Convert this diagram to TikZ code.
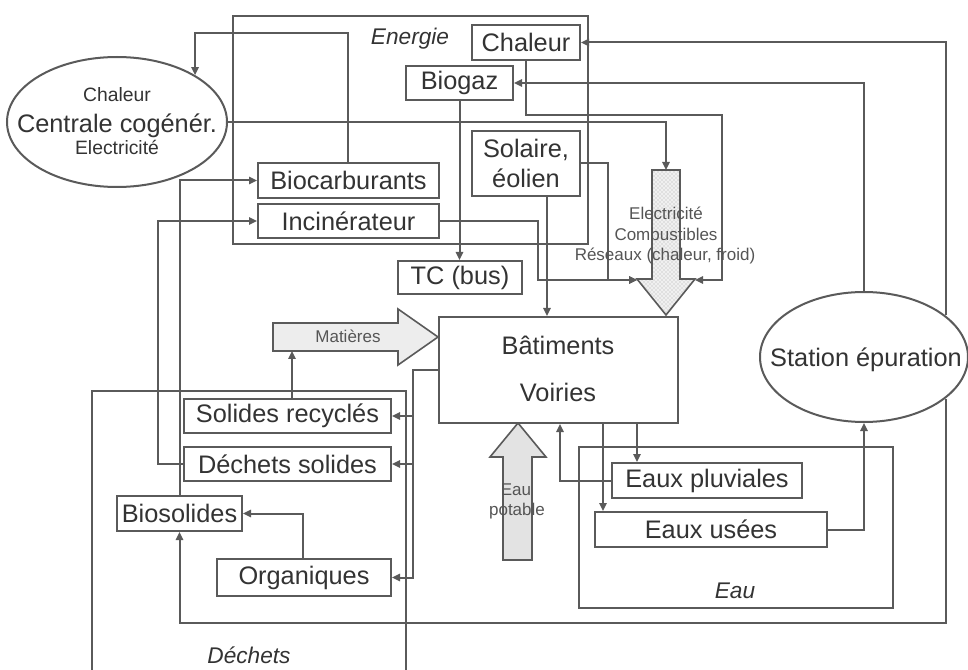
\documentclass[tikz,border=0pt]{standalone}
\usepackage{fontspec}
\setmainfont{Liberation Sans}
\usetikzlibrary{arrows.meta,shapes.geometric,patterns}
\definecolor{lc}{HTML}{5A5A5A}
\definecolor{txtc}{HTML}{333333}
\definecolor{txtc2}{HTML}{555555}
\def\pxu{0.75pt}
\begin{document}
\begin{tikzpicture}[x=0.75pt,y=-0.75pt,
  ln/.style={draw=lc,line width=1.5pt},
  arr/.style={ln,-{Triangle[length=6pt,width=5.5pt]}},
  bx/.style={draw=lc,line width=1.5pt,fill=white,inner sep=0pt,text=txtc,font=\fontsize{19}{22.5}\selectfont},
  elli/.style={ellipse,draw=lc,line width=1.5pt,fill=white,inner sep=0pt},
  txtbig/.style={text=txtc,font=\fontsize{19}{22.5}\selectfont,inner sep=0pt,anchor=base},
  txtsml/.style={text=txtc,font=\fontsize{14.5}{17}\selectfont,inner sep=0pt,anchor=base},
  txtarr/.style={text=txtc2,font=\fontsize{12.75}{15}\selectfont,inner sep=0pt,anchor=base},
  txtreg/.style={text=txtc,font=\itshape\fontsize{17}{20}\selectfont,inner sep=0pt,anchor=base},
  shp/.style={draw=lc,line width=1.2pt}
]
\fill[white] (0,0) rectangle (968,670);
\useasboundingbox (0,0) rectangle (968,670);

% helper coordinates
\coordinate (x348) at (348,0);
\coordinate (y33) at (0,33);
\coordinate (x722) at (722,0);
\coordinate (y115) at (0,115);
\coordinate (x608) at (608,0);
\coordinate (x538) at (538,0);
\coordinate (x547) at (547,0);
\coordinate (x158) at (158,0);
\coordinate (x292) at (292,0);
\coordinate (x413) at (413,0);
\coordinate (x637) at (637,0);
\coordinate (x603) at (603,0);
\coordinate (x560) at (560,0);
\coordinate (x303) at (303,0);
\coordinate (y623) at (0,623);

% regions
\draw[ln] (233,16) rectangle (588,244);
\draw[ln] (579,447) rectangle (893,608);
\draw[ln] (92,670) -- (92,391) -- (406,391) -- (406,670);
\node[txtreg] (lEnergie) at (410,45) {Energie};
\node[txtreg] (lEau) at (735,598) {Eau};
\node[txtreg] (lDechets) at (249,663) {Déchets};

% big flow arrows
\fill[gray!12] (652,170) -- (680,170) -- (680,279) -- (695,279) -- (666,315) -- (637,279) -- (652,279) -- cycle;
\fill[pattern=crosshatch dots,pattern color=gray!65] (652,170) -- (680,170) -- (680,279) -- (695,279) -- (666,315) -- (637,279) -- (652,279) -- cycle;
\draw[shp] (652,170) -- (680,170) -- (680,279) -- (695,279) -- (666,315) -- (637,279) -- (652,279) -- cycle;
\coordinate (bigtop) at (666,170);
\coordinate (bigL) at (637,280);
\coordinate (bigR) at (695,280);

\draw[shp,fill=gray!14] (273,323) -- (398,323) -- (398,309) -- (438,337) -- (398,365) -- (398,351) -- (273,351) -- cycle;
\coordinate (matB) at (292,351);

\draw[shp,fill=gray!22] (503,560) -- (532,560) -- (532,457) -- (546,457) -- (518,423) -- (490,457) -- (503,457) -- cycle;

% ellipses
\node[elli,minimum width=220*\pxu,minimum height=130*\pxu] (cen) at (117,122) {};
\node[txtsml] (cenA) at (117,102) {Chaleur};
\node[txtbig] (cenB) at (117,133) {Centrale cogénér.};
\node[txtsml] (cenC) at (117,155) {Electricité};

\node[elli,minimum width=208*\pxu,minimum height=130*\pxu] (sta) at (864,357) {};
\node[txtbig] (staT) at (866,367) {Station épuration};

% boxes
\node[bx,minimum width=108*\pxu,minimum height=35*\pxu] (chal) at (526,42.5) {Chaleur};
\node[bx,minimum width=107*\pxu,minimum height=34*\pxu] (biogaz) at (459.5,83) {Biogaz};
\node[bx,minimum width=108*\pxu,minimum height=65*\pxu,align=center] (solaire) at (526,163.5) {Solaire,\\éolien};
\node[bx,minimum width=181*\pxu,minimum height=35*\pxu] (biocarb) at (348.5,180.5) {Biocarburants};
\node[bx,minimum width=181*\pxu,minimum height=34*\pxu] (incin) at (348.5,221) {Incinérateur};
\node[bx,minimum width=124*\pxu,minimum height=33*\pxu] (tc) at (460,277.5) {TC (bus)};
\node[bx,minimum width=239*\pxu,minimum height=106*\pxu] (bat) at (558.5,370) {};
\node[txtbig] (batA) at (558,355) {Bâtiments};
\node[txtbig] (batB) at (558,402) {Voiries};
\node[bx,minimum width=207*\pxu,minimum height=34*\pxu] (solrec) at (287.5,416) {Solides recyclés};
\node[bx,minimum width=207*\pxu,minimum height=34*\pxu] (dechsol) at (287.5,464) {Déchets solides};
\node[bx,minimum width=125*\pxu,minimum height=35*\pxu] (biosol) at (179.5,513.5) {Biosolides};
\node[bx,minimum width=174*\pxu,minimum height=37*\pxu] (organ) at (304,577.5) {Organiques};
\node[bx,minimum width=190*\pxu,minimum height=35*\pxu] (pluv) at (707,480.5) {Eaux pluviales};
\node[bx,minimum width=232*\pxu,minimum height=35*\pxu] (usees) at (711,529.5) {Eaux usées};

% connectors
\draw[arr] (biocarb.north -| x348) -- (x348 |- y33) -| (cen.31);
\draw[arr] (cen.east) -| (bigtop);
\draw[arr] (sta.27) |- (chal.east);
\draw[arr] (sta.north) |- (biogaz.east);
\draw[arr] (sta.-27) |- (y623 -| biosol.south) -- (biosol.south);
\draw[arr] (usees.east) -| (sta.south);
\draw[arr] (chal.south) |- (x722 |- y115) -- (x722 |- bigR) -- (bigR);
\draw[arr] (solaire.east) -| (x608 |- bigL) -- (bigL);
\draw[arr] (incin.east) -| (x538 |- bigL) -- (bigL);
\draw[arr] (x547 |- solaire.south) -- (x547 |- bat.north);
\draw[arr] (biogaz.south) -- (biogaz.south |- tc.north);
\draw[arr] (biosol.north) |- (biocarb.west);
\draw[arr] (dechsol.west) -| (x158 |- incin.west) -- (incin.west);
\draw[arr] (x292 |- solrec.north) -- (matB);
\draw[arr] (bat.west) -| (x413 |- organ.east) -- (organ.east);
\draw[arr] (x413 |- solrec.east) -- (solrec.east);
\draw[arr] (x413 |- dechsol.east) -- (dechsol.east);
\draw[arr] (x637 |- bat.south) -- (x637 |- pluv.north);
\draw[arr] (x603 |- bat.south) -- (x603 |- usees.north);
\draw[arr] (pluv.west) -| (x560 |- bat.south);
\draw[arr] (x303 |- organ.north) |- (biosol.east);

% arrow labels
\node[txtarr] (matT) at (348,343) {Matières};
\node[txtarr] (bigA) at (666,220) {Electricité};
\node[txtarr] (bigB) at (666,241) {Combustibles};
\node[txtarr] (bigC) at (665,261) {Réseaux (chaleur, froid)};
\node[txtarr] (eauA) at (516,495) {Eau};
\node[txtarr] (eauB) at (517,515) {potable};
\end{tikzpicture}
\end{document}
